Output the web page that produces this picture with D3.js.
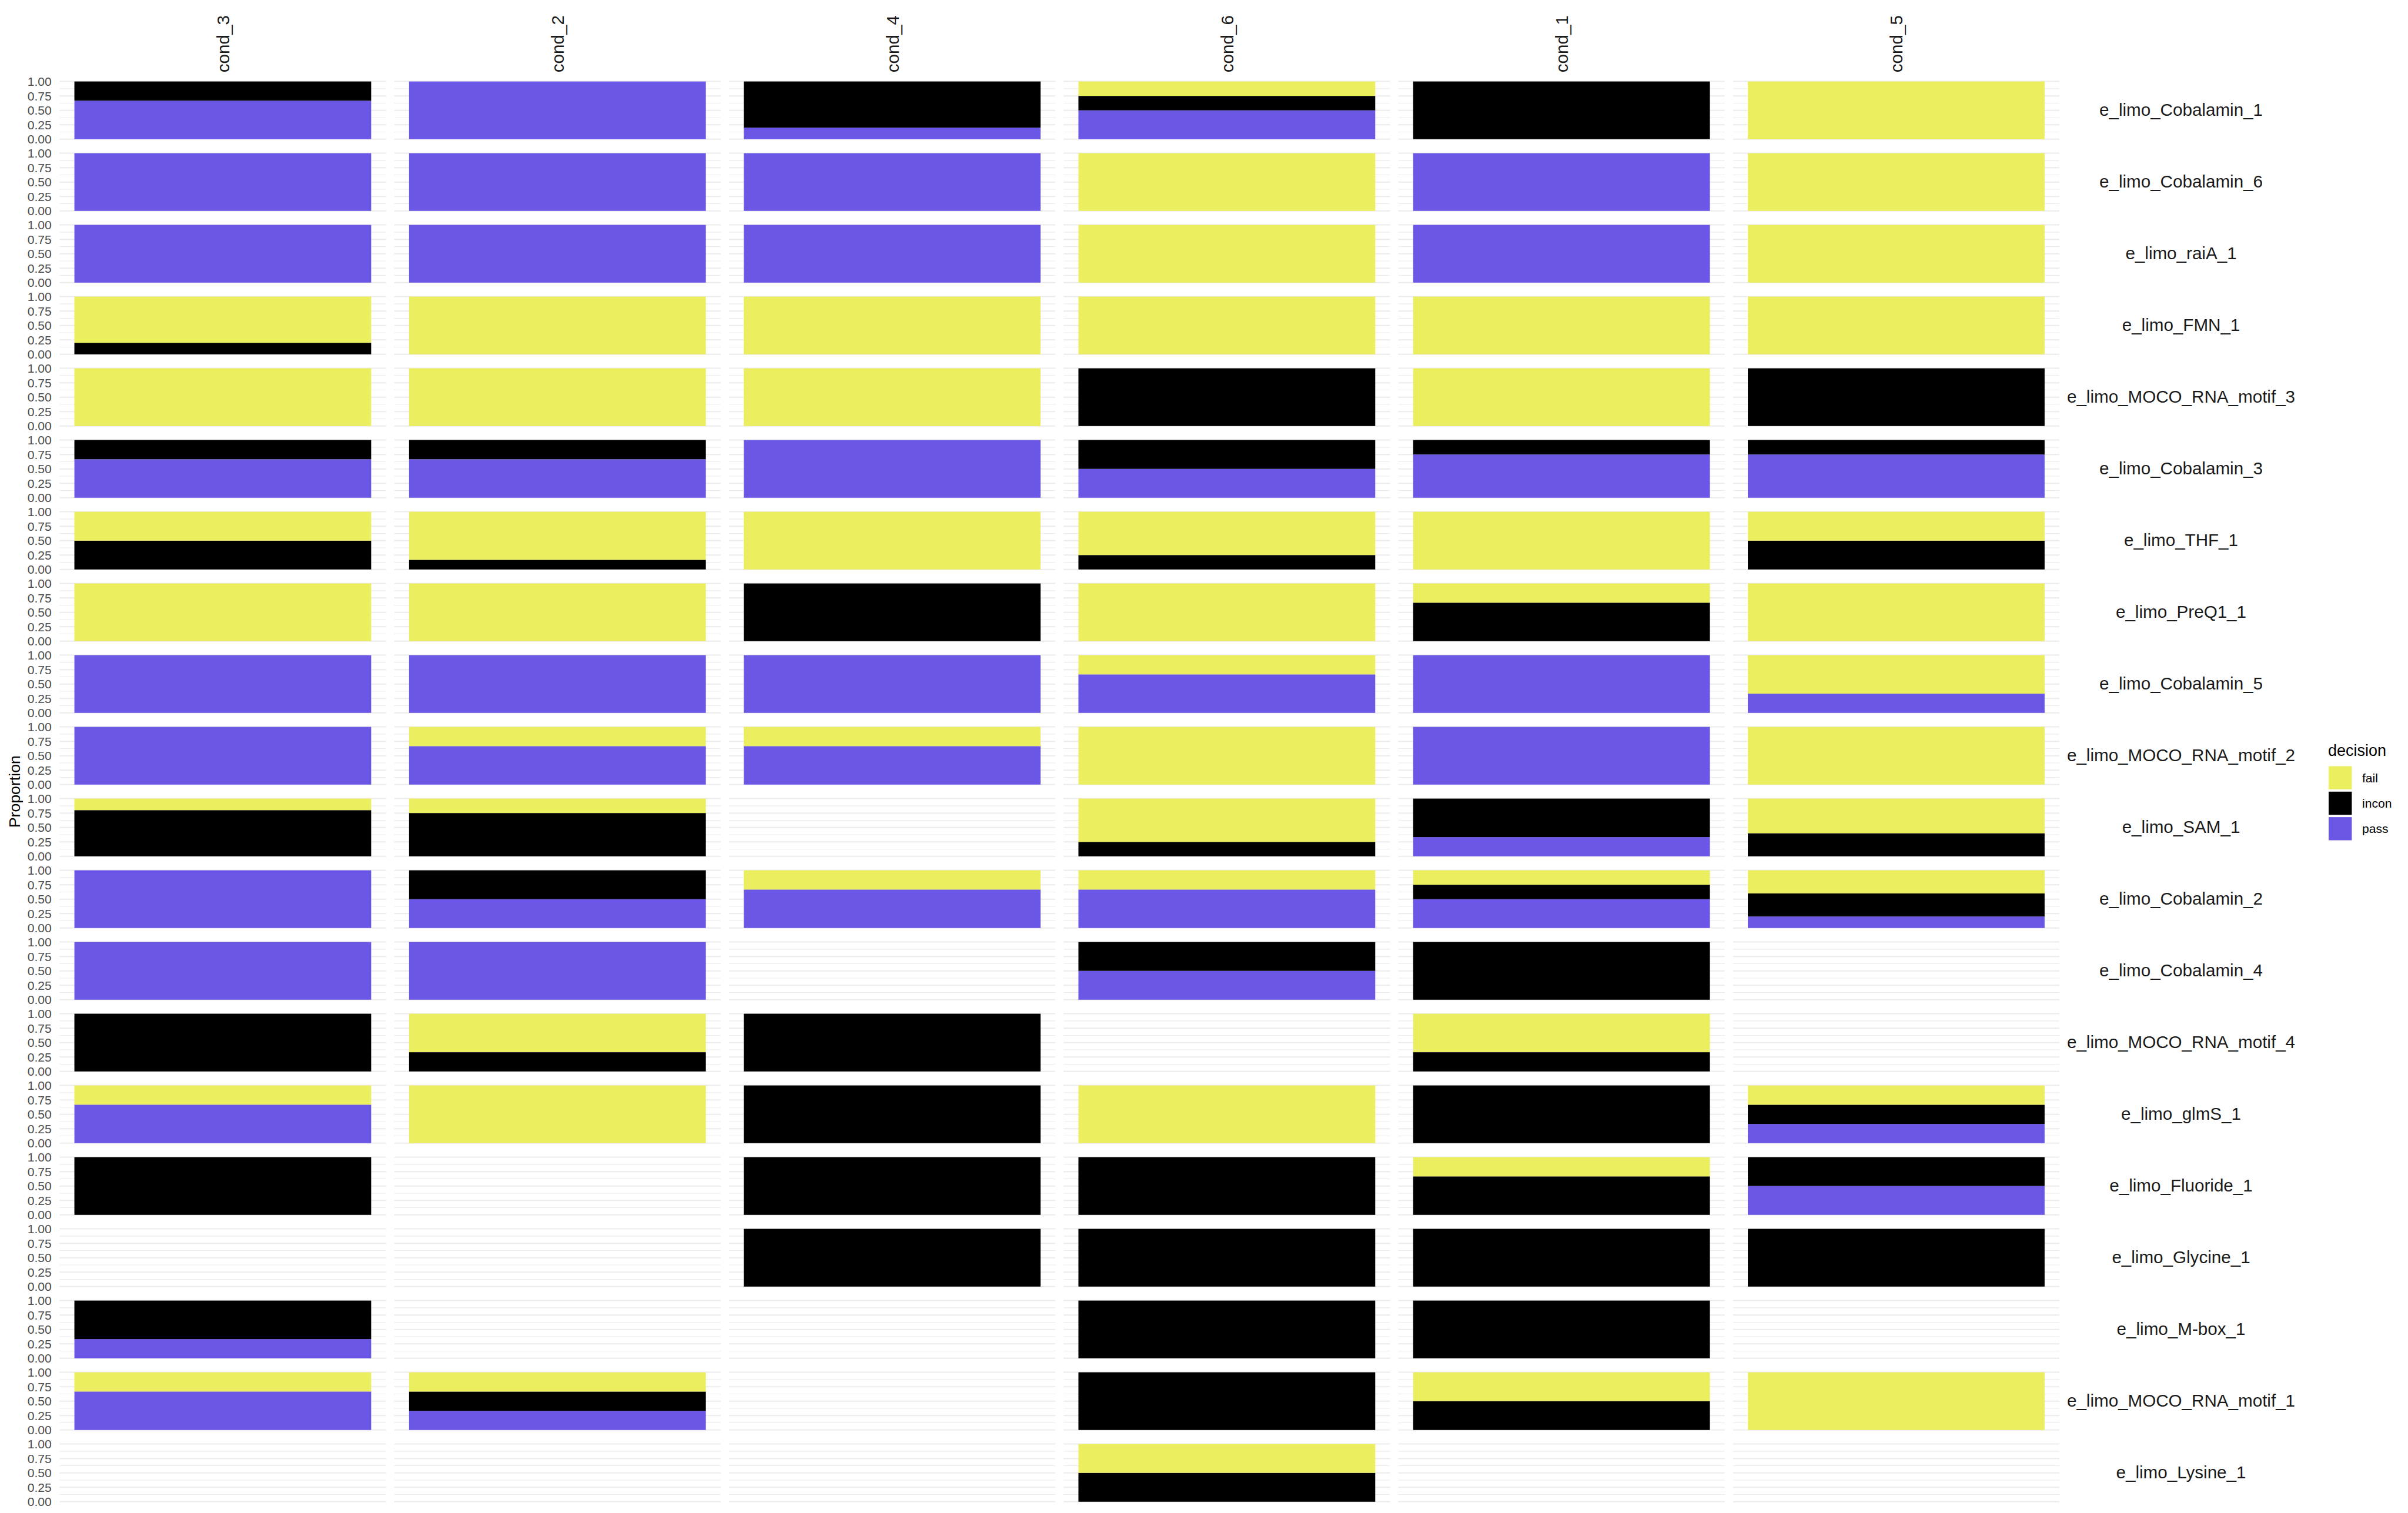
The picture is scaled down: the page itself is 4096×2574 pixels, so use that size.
<!DOCTYPE html>
<html><head><meta charset="utf-8">
<script src="https://cdn.jsdelivr.net/npm/d3@7"></script>
<style>
body{margin:0;background:#fff}
svg{display:block}
text{font-family:"Liberation Sans",Arial,Helvetica,sans-serif}
</style>
</head><body>
<svg id="chart" width="4096" height="2574"></svg>
<script>
// ---------------- data ----------------
const conditions = ["cond_3","cond_2","cond_4","cond_6","cond_1","cond_5"];
const riboswitches = [
  "e_limo_Cobalamin_1","e_limo_Cobalamin_6","e_limo_raiA_1","e_limo_FMN_1",
  "e_limo_MOCO_RNA_motif_3","e_limo_Cobalamin_3","e_limo_THF_1","e_limo_PreQ1_1",
  "e_limo_Cobalamin_5","e_limo_MOCO_RNA_motif_2","e_limo_SAM_1","e_limo_Cobalamin_2",
  "e_limo_Cobalamin_4","e_limo_MOCO_RNA_motif_4","e_limo_glmS_1","e_limo_Fluoride_1",
  "e_limo_Glycine_1","e_limo_M-box_1","e_limo_MOCO_RNA_motif_1","e_limo_Lysine_1"
];
const decisions = ["fail","incon","pass"];
const decisionColors = ["#EBEE5E","#000000","#6A57E5"];
const yTicks = [0, 0.25, 0.5, 0.75, 1];
const yTickLabels = ["0.00","0.25","0.50","0.75","1.00"];
const yMinorTicks = [0.125, 0.375, 0.625, 0.875];

// rows = riboswitches, columns = conditions; null = no observations
const passValues = [
  [0.667, 1,     0.2,  0.5,   0,     0    ],
  [1,     1,     1,    0,     1,     0    ],
  [1,     1,     1,    0,     1,     0    ],
  [0,     0,     0,    0,     0,     0    ],
  [0,     0,     0,    0,     0,     0    ],
  [0.667, 0.667, 1,    0.5,   0.75,  0.75 ],
  [0,     0,     0,    0,     0,     0    ],
  [0,     0,     0,    0,     0,     0    ],
  [1,     1,     1,    0.667, 1,     0.333],
  [1,     0.667, 0.667,0,     1,     0    ],
  [0,     0,     null, 0,     0.333, 0    ],
  [1,     0.5,   0.667,0.667, 0.5,   0.2  ],
  [1,     1,     null, 0.5,   0,     null ],
  [0,     0,     0,    null,  0,     null ],
  [0.667, 0,     0,    0,     0,     0.333],
  [0,     null,  0,    0,     0,     0.5  ],
  [null,  null,  0,    0,     0,     0    ],
  [0.333, null,  null, 0,     0,     null ],
  [0.667, 0.333, null, 0,     0,     0    ],
  [null,  null,  null, 0,     null,  null ]
];
const inconValues = [
  [0.333, 0,     0.8,  0.25,  1,     0    ],
  [0,     0,     0,    0,     0,     0    ],
  [0,     0,     0,    0,     0,     0    ],
  [0.2,   0,     0,    0,     0,     0    ],
  [0,     0,     0,    1,     0,     1    ],
  [0.333, 0.333, 0,    0.5,   0.25,  0.25 ],
  [0.5,   0.167, 0,    0.25,  0,     0.5  ],
  [0,     0,     1,    0,     0.667, 0    ],
  [0,     0,     0,    0,     0,     0    ],
  [0,     0,     0,    0,     0,     0    ],
  [0.8,   0.75,  null, 0.25,  0.667, 0.4  ],
  [0,     0.5,   0,    0,     0.25,  0.4  ],
  [0,     0,     null, 0.5,   1,     null ],
  [1,     0.333, 1,    null,  0.333, null ],
  [0,     0,     1,    0,     1,     0.333],
  [1,     null,  1,    1,     0.667, 0.5  ],
  [null,  null,  1,    1,     1,     1    ],
  [0.667, null,  null, 1,     1,     null ],
  [0,     0.333, null, 1,     0.5,   0    ],
  [null,  null,  null, 0.5,   null,  null ]
];
const failValues = [
  [0,     0,     0,    0.25,  0,     1    ],
  [0,     0,     0,    1,     0,     1    ],
  [0,     0,     0,    1,     0,     1    ],
  [0.8,   1,     1,    1,     1,     1    ],
  [1,     1,     1,    0,     1,     0    ],
  [0,     0,     0,    0,     0,     0    ],
  [0.5,   0.833, 1,    0.75,  1,     0.5  ],
  [1,     1,     0,    1,     0.333, 1    ],
  [0,     0,     0,    0.333, 0,     0.667],
  [0,     0.333, 0.333,1,     0,     1    ],
  [0.2,   0.25,  null, 0.75,  0,     0.6  ],
  [0,     0,     0.333,0.333, 0.25,  0.4  ],
  [0,     0,     null, 0,     0,     null ],
  [0,     0.667, 0,    null,  0.667, null ],
  [0.333, 1,     0,    1,     0,     0.333],
  [0,     null,  0,    0,     0.333, 0    ],
  [null,  null,  0,    0,     0,     0    ],
  [0,     null,  null, 0,     0,     null ],
  [0.333, 0.333, null, 0,     0.5,   1    ],
  [null,  null,  null, 0.5,   null,  null ]
];

// ---------------- layout ----------------
const svg = d3.select("#chart");
svg.append("rect").attr("width",4096).attr("height",2574).attr("fill","#fff");

const plotLeft = 101.3, plotRight = 3503.1;
const plotTop = 133.7, plotBottom = 2559.7;
const colStep = (plotRight - plotLeft + 14) / conditions.length;
const rowStep = (plotBottom - plotTop + 14) / riboswitches.length;

const colScale = d3.scaleBand().domain(conditions)
  .range([plotLeft, plotRight]).paddingInner(14 / colStep).paddingOuter(0);
const rowScale = d3.scaleBand().domain(riboswitches)
  .range([plotTop, plotBottom]).paddingInner(14 / rowStep).paddingOuter(0);

const pw = colScale.bandwidth(), ph = rowScale.bandwidth();
const y = d3.scaleLinear().domain([-0.05, 1.05]).range([ph, 0]);
const x = d3.scaleLinear().domain([0.45, 1.55]).range([0, pw]);
const color = d3.scaleOrdinal().domain(decisions).range(decisionColors);

// cell table for stacking
const cells = [];
riboswitches.forEach((r, ri) => conditions.forEach((c, ci) => {
  if (passValues[ri][ci] === null) return;
  cells.push({row: r, col: c, pass: passValues[ri][ci], incon: inconValues[ri][ci], fail: failValues[ri][ci]});
}));
const stacked = d3.stack().keys(["pass","incon","fail"])(cells);

// panels
const panels = svg.append("g");
riboswitches.forEach(r => conditions.forEach(c => {
  const g = panels.append("g")
    .attr("class","panel")
    .attr("data-row", r).attr("data-col", c)
    .attr("transform", `translate(${colScale(c)},${rowScale(r)})`);
  g.selectAll("line.minor").data(yMinorTicks).join("line")
    .attr("class","minor")
    .attr("x1",0).attr("x2",pw)
    .attr("y1",d=>y(d)).attr("y2",d=>y(d))
    .attr("stroke","#ebebeb").attr("stroke-width",1.1);
  g.selectAll("line.major").data(yTicks).join("line")
    .attr("class","major")
    .attr("x1",0).attr("x2",pw)
    .attr("y1",d=>y(d)).attr("y2",d=>y(d))
    .attr("stroke","#ebebeb").attr("stroke-width",2);
}));

// bars
stacked.forEach(series => {
  svg.append("g").attr("fill", color(series.key))
    .selectAll("rect")
    .data(series.filter(d => d[1] - d[0] > 0))
    .join("rect")
    .attr("x", d => colScale(d.data.col) + x(0.5))
    .attr("width", x(1.5) - x(0.5))
    .attr("y", d => rowScale(d.data.row) + y(d[1]))
    .attr("height", d => y(d[0]) - y(d[1]));
});

// y tick labels
riboswitches.forEach(r => {
  svg.append("g").selectAll("text").data(yTicks).join("text")
    .attr("x", 87.8)
    .attr("y", (d) => rowScale(r) + y(d))
    .attr("dy","0.36em")
    .attr("text-anchor","end")
    .attr("font-size",21.1)
    .attr("fill","#4d4d4d")
    .text((d,i) => yTickLabels[i]);
});

// column strips
svg.append("g").selectAll("text").data(conditions).join("text")
  .attr("transform", d => `translate(${colScale(d) + pw/2},123.2) rotate(-90)`)
  .attr("dy","0.37em")
  .attr("text-anchor","start")
  .attr("font-size",29.6)
  .attr("fill","#1a1a1a")
  .text(d => d);

// row strips
svg.append("g").selectAll("text").data(riboswitches).join("text")
  .attr("x", 3710)
  .attr("y", d => rowScale(d) + ph/2)
  .attr("dy","0.3em")
  .attr("text-anchor","middle")
  .attr("font-size",29.6)
  .attr("fill","#1a1a1a")
  .text(d => d);

// y axis title
svg.append("text")
  .attr("transform", `translate(33.8,${(plotTop+plotBottom)/2}) rotate(-90)`)
  .attr("text-anchor","middle")
  .attr("font-size",26.7)
  .attr("fill","#000")
  .text("Proportion");

// legend
const legend = svg.append("g").attr("transform","translate(3960,1285.5)");
legend.append("text").attr("x",0).attr("y",0)
  .attr("font-size",27).attr("fill","#000").text("decision");
const keySize = 39.4, keyStep = 43.3;
const items = legend.selectAll("g.item").data(decisions).join("g")
  .attr("class","item")
  .attr("transform",(d,i)=>`translate(1,${18 + i*keyStep})`);
items.append("rect").attr("width",keySize).attr("height",keySize)
  .attr("fill", d => color(d));
items.append("text").attr("x",57).attr("y",keySize/2).attr("dy","0.36em")
  .attr("font-size",21.1).attr("fill","#000").text(d => d);
</script>
</body></html>
